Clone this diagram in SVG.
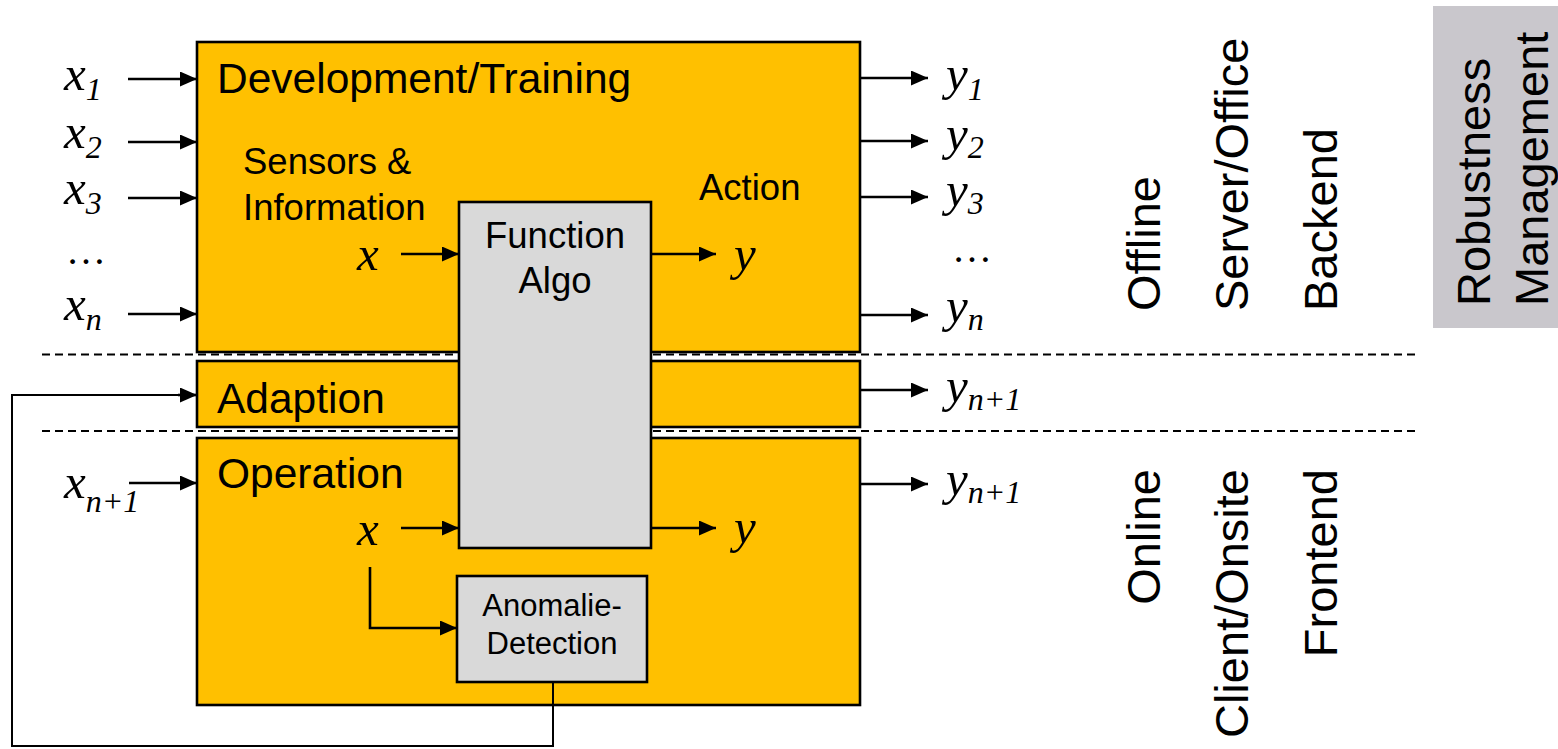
<svg xmlns="http://www.w3.org/2000/svg" width="1558" height="749" viewBox="0 0 1558 749">
  <defs>
    <marker id="arrow" markerUnits="userSpaceOnUse" markerWidth="17" markerHeight="15" refX="17" refY="7.5" orient="auto">
      <path d="M0,0 L17,7.5 L0,15 Z" fill="#000"/>
    </marker>
  </defs>
  <style>
    .stage { fill: #FFC000; stroke: #000; stroke-width: 2.6; }
    .block { fill: #D9D9D9; stroke: #000; stroke-width: 2.6; }
    .sep { stroke: #000; stroke-width: 2; stroke-dasharray: 8 5; fill: none; }
    .flow { stroke: #000; stroke-width: 2.6; fill: none; marker-end: url(#arrow); }
    .wire { stroke: #000; stroke-width: 2; fill: none; }
    .title { font-family: "Liberation Sans", Arial, sans-serif; font-size: 42.5px; fill: #000; }
    .label { font-family: "Liberation Sans", Arial, sans-serif; font-size: 36.5px; fill: #000; }
    .small { font-family: "Liberation Sans", Arial, sans-serif; font-size: 31px; fill: #000; text-anchor: middle; }
    .side { font-family: "Liberation Sans", Arial, sans-serif; font-size: 47px; fill: #000; }
    .var { font-family: "Liberation Serif", "Times New Roman", serif; font-style: italic; font-size: 49px; fill: #000; }
    .sub { font-size: 32px; }
    .dots { font-family: "Liberation Serif", "Times New Roman", serif; font-size: 40px; fill: #000; }
  </style>

  <!-- stage boxes -->
  <g id="development">
    <rect class="stage" x="197" y="42" width="663" height="310"/>
    <text class="title" x="217" y="93">Development/Training</text>
    <text class="label" x="243" y="174">Sensors &amp;</text>
    <text class="label" x="243" y="220">Information</text>
    <text class="label" x="699" y="200">Action</text>
  </g>
  <g id="adaption">
    <rect class="stage" x="197" y="361" width="663" height="66"/>
    <text class="title" x="217" y="413">Adaption</text>
  </g>
  <g id="operation">
    <rect class="stage" x="197" y="438" width="663" height="267"/>
    <text class="title" x="217" y="488">Operation</text>
  </g>

  <!-- phase separators -->
  <g id="separators">
    <line class="sep" x1="42" y1="354.5" x2="1420" y2="354.5"/>
    <line class="sep" x1="42" y1="431" x2="1420" y2="431"/>
  </g>

  <g id="function-algo">
    <rect class="block" x="459" y="202" width="192" height="346"/>
    <text class="label" x="555" y="248" text-anchor="middle">Function</text>
    <text class="label" x="555" y="293" text-anchor="middle">Algo</text>
  </g>

  <g id="anomalie-detection">
    <rect class="block" x="457" y="576" width="190" height="106"/>
    <text class="small" x="552" y="616">Anomalie-</text>
    <text class="small" x="552" y="654">Detection</text>
  </g>

  <!-- inputs -->
  <g id="inputs">
    <text class="var" x="64" y="90">x<tspan class="sub" dy="10">1</tspan></text>
    <text class="var" x="64" y="148">x<tspan class="sub" dy="10">2</tspan></text>
    <text class="var" x="64" y="204">x<tspan class="sub" dy="10">3</tspan></text>
    <text class="dots" x="66" y="264">…</text>
    <text class="var" x="64" y="320">x<tspan class="sub" dy="10">n</tspan></text>
    <text class="var" x="64" y="498">x<tspan class="sub" dy="14">n+1</tspan></text>
    <text class="var" x="357" y="270">x</text>
    <text class="var" x="357" y="545">x</text>
  </g>

  <!-- outputs -->
  <g id="outputs">
    <text class="var" x="946" y="90">y<tspan class="sub" dy="10">1</tspan></text>
    <text class="var" x="946" y="150">y<tspan class="sub" dy="8">2</tspan></text>
    <text class="var" x="946" y="206">y<tspan class="sub" dy="8">3</tspan></text>
    <text class="dots" x="952" y="262">…</text>
    <text class="var" x="946" y="322">y<tspan class="sub" dy="8">n</tspan></text>
    <text class="var" x="946" y="402">y<tspan class="sub" dy="8">n+1</tspan></text>
    <text class="var" x="946" y="495">y<tspan class="sub" dy="8">n+1</tspan></text>
    <text class="var" x="734" y="270">y</text>
    <text class="var" x="734" y="543">y</text>
  </g>

  <!-- connectors -->
  <g id="connectors">
    <line class="flow" x1="128" y1="79" x2="197" y2="79"/>
    <line class="flow" x1="128" y1="142" x2="197" y2="142"/>
    <line class="flow" x1="128" y1="198" x2="197" y2="198"/>
    <line class="flow" x1="128" y1="314" x2="197" y2="314"/>
    <line class="flow" x1="129" y1="483" x2="197" y2="483"/>

    <line class="flow" x1="860" y1="78" x2="928" y2="78"/>
    <line class="flow" x1="860" y1="141" x2="928" y2="141"/>
    <line class="flow" x1="860" y1="197" x2="928" y2="197"/>
    <line class="flow" x1="860" y1="315" x2="928" y2="315"/>
    <line class="flow" x1="860" y1="390" x2="928" y2="390"/>
    <line class="flow" x1="860" y1="484" x2="928" y2="484"/>

    <line class="flow" x1="401" y1="254" x2="459" y2="254"/>
    <line class="flow" x1="651" y1="254" x2="716" y2="254"/>
    <line class="flow" x1="401" y1="528" x2="459" y2="528"/>
    <line class="flow" x1="651" y1="528" x2="716" y2="528"/>

    <polyline class="flow" points="370,567 370,628 457,628"/>
    <polyline class="wire" points="553,682 553,746 12,746 12,395 180,395"/>
    <line class="flow" x1="178" y1="395" x2="197" y2="395"/>
  </g>

  <!-- deployment labels -->
  <g id="offline-labels">
    <text class="side" transform="translate(1160,311) rotate(-90)">Offline</text>
    <text class="side" transform="translate(1248,311) rotate(-90)">Server/Office</text>
    <text class="side" transform="translate(1337,311) rotate(-90)">Backend</text>
  </g>
  <g id="online-labels">
    <text class="side" text-anchor="end" transform="translate(1160,469) rotate(-90)">Online</text>
    <text class="side" text-anchor="end" transform="translate(1248,469) rotate(-90)">Client/Onsite</text>
    <text class="side" text-anchor="end" transform="translate(1337,469) rotate(-90)">Frontend</text>
  </g>

  <g id="robustness-management">
    <rect x="1433" y="6" width="125" height="322" fill="#C9C7CC"/>
    <text class="side" transform="translate(1490,306) rotate(-90)">Robustness</text>
    <text class="side" transform="translate(1548,306) rotate(-90)">Management</text>
  </g>
</svg>
